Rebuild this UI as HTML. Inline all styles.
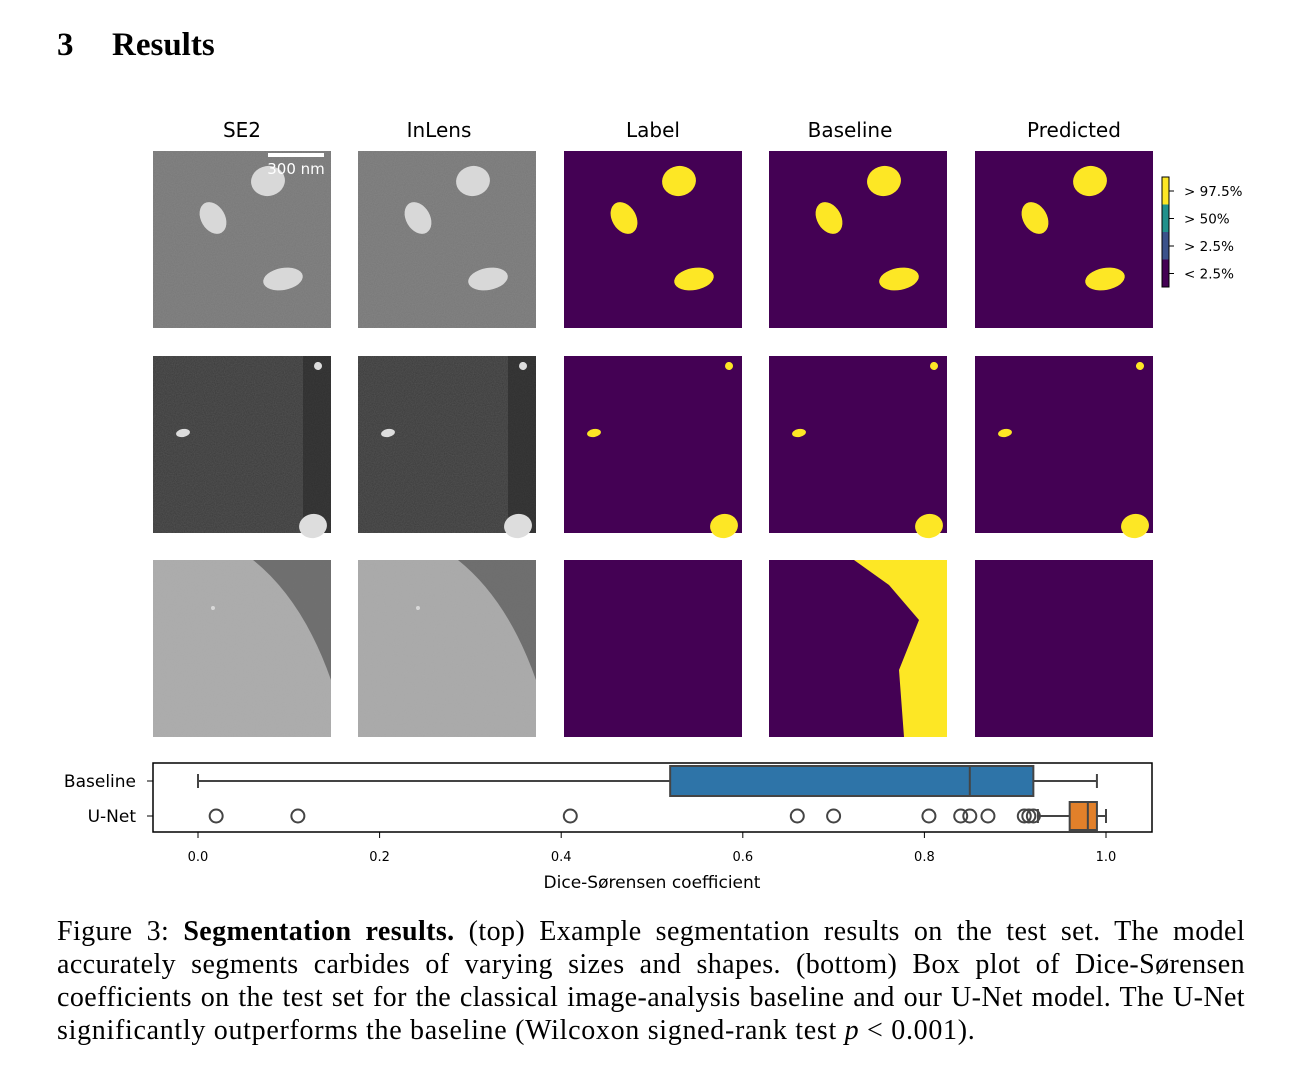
<!DOCTYPE html>
<html><head><meta charset="utf-8"><style>
body{margin:0;background:#fff;width:1301px;height:1078px;overflow:hidden;position:relative;font-family:"Liberation Serif",serif}
.h{position:absolute;top:27px;font-size:33px;font-weight:bold}
#cap{position:absolute;left:57px;top:915px;width:1188px;font-size:28px;letter-spacing:0.4px;line-height:33px}
#cap div{text-align:justify;text-align-last:justify;white-space:nowrap;height:33px}
#cap div.last{text-align-last:left;letter-spacing:0.7px}
svg{position:absolute;left:0;top:0}
</style></head><body>
<div class="h" style="left:57px">3</div>
<div class="h" style="left:112px">Results</div>
<svg width="1301" height="910" id="s" font-family="DejaVu Sans, sans-serif">
<defs><filter id="n" x="0" y="0" width="1" height="1" filterUnits="objectBoundingBox"><feTurbulence type="fractalNoise" baseFrequency="0.9" numOctaves="2"/><feColorMatrix values="0 0 0 0 0.5 0 0 0 0 0.5 0 0 0 0 0.5 0.6 0 0 0 0"/></filter></defs>
<g id="imgs"></g>
<g id="box"></g>
</svg>
<div id="cap">
<div>Figure 3: <b>Segmentation results.</b> (top) Example segmentation results on the test set. The model</div>
<div>accurately segments carbides of varying sizes and shapes. (bottom) Box plot of Dice-Sørensen</div>
<div>coefficients on the test set for the classical image-analysis baseline and our U-Net model. The U-Net</div>
<div class="last">significantly outperforms the baseline (Wilcoxon signed-rank test <i>p</i> &lt; 0.001).</div>
</div>
<script>
const NS="http://www.w3.org/2000/svg";
function mk(p,t,a,txt){const e=document.createElementNS(NS,t);for(const k in a)e.setAttribute(k,a[k]);if(txt!==undefined)e.textContent=txt;p.appendChild(e);return e;}
const G=document.getElementById('imgs');
const colX=[153,358,564,769,975], rowY=[151,356,560], W=178;
const titles=["SE2","InLens","Label","Baseline","Predicted"];
titles.forEach((t,i)=>{const e=mk(G,'text',{x:colX[i]+W/2+(i==4?10:0)-(i==1?8:0)-(i==3?8:0),y:137,'text-anchor':'middle','font-size':20},t);});
const bg=[["#777","#777","#440154","#440154","#440154"],["#3a3a3a","#3a3a3a","#440154","#440154","#440154"],["#aaa","#a8a8a8","#440154","#440154","#440154"]];
const blobs=[[[115,30,17,15],[60,67,12,17],[130,128,20,11]],[[30,77,7,4],[165,10,4,4],[160,170,14,12]],[[60,48,2,2]]];
for(let r=0;r<3;r++)for(let c=0;c<5;c++){
 const g=mk(G,'g',{});
 const x=colX[c],y=rowY[r];
 mk(g,'rect',{x,y,width:W,height:177,fill:bg[r][c]});
 if(c<2){mk(g,'rect',{x,y,width:W,height:177,filter:'url(#n)',opacity:0.35});
  if(r==2){mk(g,'path',{d:`M${x+100} ${y} L${x+W} ${y} L${x+W} ${y+120} Q${x+150} ${y+40} ${x+100} ${y}`,fill:'#555',opacity:0.7});}
  if(r==1){mk(g,'rect',{x:x+150,y,width:28,height:177,fill:'#222',opacity:.5});}}
 if(r==2&&c==3){mk(g,'path',{d:`M${x+85} ${y} L${x+178} ${y} L${x+178} ${y+177} L${x+135} ${y+177} L${x+130} ${y+110} L${x+150} ${y+60} L${x+120} ${y+25} Z`,fill:'#fde725'});}
 if(r==2&&c>=2)continue;
 blobs[r].forEach(b=>{const col=c<2?(r==1?'#ddd':'#d8d8d8'):'#fde725';mk(g,'ellipse',{cx:x+b[0],cy:y+b[1],rx:b[2],ry:b[3],fill:col,transform:`rotate(${r==0&&b[1]==67?-30:-10} ${x+b[0]} ${y+b[1]})`});});
}
mk(G,'rect',{x:268,y:153,width:56,height:4,fill:'#fff'});
mk(G,'text',{x:296,y:174,'text-anchor':'middle','font-size':15,fill:'#fff'},'300 nm');
const cb=mk(G,'g',{});
const cbc=["#fde725","#21918c","#3b528b","#440154"],cbl=["> 97.5%","> 50%","> 2.5%","< 2.5%"];
cbc.forEach((c,i)=>{mk(cb,'rect',{x:1162,y:177+i*27.5,width:7,height:27.5,fill:c});mk(cb,'line',{x1:1169,x2:1174,y1:191+i*27.5,y2:191+i*27.5,stroke:'#000'});mk(cb,'text',{x:1184,y:196+i*27.5,'font-size':13.5},cbl[i]);});
mk(cb,'rect',{x:1162,y:177,width:7,height:110,fill:'none',stroke:'#000','stroke-width':1});
const groups=["Baseline","U-Net"];
const q1=[0.52,0.96], med=[0.85,0.98], q3=[0.92,0.99], wlo=[0.0,0.925], whi=[0.99,1.0];
const fliers=[[],[0.02,0.11,0.41,0.66,0.70,0.805,0.84,0.85,0.87,0.91,0.915,0.92]];
const ticks=[0,0.2,0.4,0.6,0.8,1.0];
const B=document.getElementById('box');
const X=v=>198+v*908, Y=i=>781+i*35;
const fr=mk(B,'rect',{x:153,y:763,width:999,height:69,fill:'none',stroke:'#000','stroke-width':1.5});
ticks.forEach(t=>{mk(B,'line',{x1:X(t),x2:X(t),y1:832,y2:838,stroke:'#000'});const e=mk(B,'text',{x:X(t),y:861,'text-anchor':'middle','font-size':13},t.toFixed(1));});
const xt=mk(B,'text',{x:652,y:888,'text-anchor':'middle','font-size':17},'Dice-Sørensen coefficient');
const fills=["#2e74a8","#e2802a"], hh=[15,14];
groups.forEach((gname,i)=>{const y=Y(i);
 mk(B,'line',{x1:147,x2:153,y1:y,y2:y,stroke:'#000'});
 const l=mk(B,'text',{x:136,y:y+6,'text-anchor':'end','font-size':17},gname);
 const g=mk(B,'g',{stroke:'#444','stroke-width':2});
 mk(g,'line',{x1:X(wlo[i]),x2:X(q1[i]),y1:y,y2:y});mk(g,'line',{x1:X(q3[i]),x2:X(whi[i]),y1:y,y2:y});
 mk(g,'line',{x1:X(wlo[i]),x2:X(wlo[i]),y1:y-7,y2:y+7});mk(g,'line',{x1:X(whi[i]),x2:X(whi[i]),y1:y-7,y2:y+7});
 mk(g,'rect',{x:X(q1[i]),y:y-hh[i],width:X(q3[i])-X(q1[i]),height:2*hh[i],fill:fills[i]});
 mk(g,'line',{x1:X(med[i]),x2:X(med[i]),y1:y-hh[i],y2:y+hh[i]});
 fliers[i].forEach(v=>{const c=mk(g,'circle',{cx:X(v),cy:y,r:6.5,fill:'none'});});
});
</script>
</body></html>
